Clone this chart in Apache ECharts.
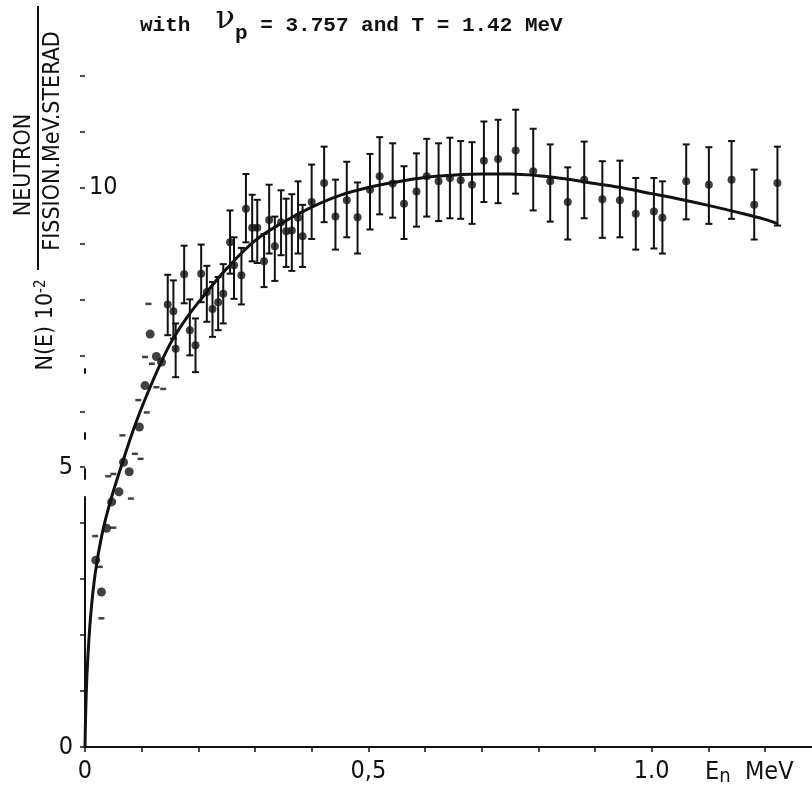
<!DOCTYPE html>
<html><head><meta charset="utf-8">
<script src="https://cdn.jsdelivr.net/npm/echarts@6/dist/echarts.min.js"></script>
<style>html,body{margin:0;padding:0;background:#fff}#c{width:812px;height:787px}</style>
</head><body><div id="c"></div>
<script>
// fitted curve (E in MeV, N(E) x 10^2)
const curveE = [0, 0.002, 0.005, 0.01, 0.018, 0.03, 0.045, 0.065, 0.09, 0.12, 0.15, 0.18, 0.21, 0.25, 0.3, 0.35, 0.4, 0.45, 0.5, 0.55, 0.6, 0.65, 0.7, 0.75, 0.8, 0.85, 0.9, 0.95, 1.0, 1.05, 1.1, 1.15, 1.2, 1.223];
const curveN = [0, 0.9, 1.6, 2.35, 3.1, 3.8, 4.4, 5.05, 5.8, 6.55, 7.2, 7.68, 8.07, 8.55, 9.05, 9.38, 9.65, 9.86, 10.0, 10.1, 10.18, 10.22, 10.24, 10.24, 10.21, 10.15, 10.07, 9.99, 9.89, 9.79, 9.68, 9.56, 9.43, 9.35];

// measured points with error bars
const barE  = [0.146, 0.156, 0.160, 0.175, 0.185, 0.195, 0.205, 0.215, 0.225, 0.235, 0.244, 0.256, 0.263, 0.276, 0.284, 0.295, 0.304, 0.316, 0.325, 0.335, 0.346, 0.355, 0.365, 0.376, 0.384, 0.400, 0.422, 0.442, 0.462, 0.481, 0.503, 0.520, 0.543, 0.563, 0.585, 0.603, 0.624, 0.644, 0.663, 0.683, 0.704, 0.729, 0.760, 0.791, 0.821, 0.852, 0.881, 0.913, 0.944, 0.972, 1.004, 1.019, 1.061, 1.101, 1.141, 1.181, 1.222];
const barN  = [7.91, 7.79, 7.12, 8.45, 7.45, 7.18, 8.46, 8.13, 7.83, 7.95, 8.10, 9.02, 8.61, 8.43, 9.62, 9.28, 9.28, 8.68, 9.42, 8.95, 9.38, 9.22, 9.23, 9.46, 9.13, 9.74, 10.08, 9.48, 9.77, 9.47, 9.96, 10.20, 10.07, 9.71, 9.93, 10.20, 10.11, 10.17, 10.13, 10.05, 10.48, 10.51, 10.66, 10.29, 10.11, 9.74, 10.14, 9.79, 9.77, 9.53, 9.57, 9.46, 10.11, 10.05, 10.14, 9.69, 10.08];
const barLo = [7.36, 7.30, 6.61, 7.93, 7.00, 6.70, 7.95, 7.60, 7.33, 7.45, 7.57, 8.46, 8.01, 7.91, 9.02, 8.68, 8.65, 8.22, 8.82, 8.33, 8.79, 8.58, 8.51, 8.82, 8.58, 9.08, 9.38, 8.89, 9.11, 8.82, 9.25, 9.52, 9.46, 9.08, 9.30, 9.48, 9.40, 9.45, 9.44, 9.35, 9.74, 9.72, 9.89, 9.59, 9.39, 9.07, 9.45, 9.10, 9.11, 8.89, 8.91, 8.82, 9.43, 9.35, 9.44, 9.07, 9.32];
const barHi = [8.44, 8.34, 7.57, 8.96, 8.00, 7.66, 8.98, 8.60, 8.31, 8.40, 8.63, 9.59, 9.11, 8.92, 10.24, 9.87, 9.78, 9.17, 10.05, 9.48, 9.95, 9.80, 9.88, 10.11, 9.69, 10.41, 10.73, 10.14, 10.46, 10.09, 10.60, 10.90, 10.79, 10.38, 10.61, 10.87, 10.79, 10.89, 10.83, 10.81, 11.18, 11.21, 11.39, 11.05, 10.77, 10.36, 10.82, 10.47, 10.48, 10.17, 10.17, 10.11, 10.77, 10.72, 10.83, 10.32, 10.73];

// low-energy points (no visible error bar)
const dotE = [0.019, 0.029, 0.038, 0.047, 0.060, 0.068, 0.078, 0.096, 0.106, 0.115, 0.126, 0.135];
const dotN = [3.34, 2.77, 3.91, 4.38, 4.56, 5.09, 4.92, 5.72, 6.46, 7.38, 6.98, 6.88];

// second low-energy set (small marks)
const markE = [0.018, 0.026, 0.029, 0.041, 0.050, 0.050, 0.066, 0.081, 0.088, 0.098, 0.094, 0.106, 0.109, 0.112, 0.118, 0.126, 0.138];
const markN = [3.77, 3.22, 2.30, 4.84, 4.88, 3.92, 5.57, 4.44, 5.24, 5.15, 6.20, 6.97, 5.98, 7.92, 6.85, 6.43, 6.40];

const xLabelValues = [0, 0.5, 1.0];
const xLabelTexts  = ['0', '0,5', '1.0'];
const yLabelValues = [0, 5];
const yLabelTexts  = ['0', '5'];
const yInsideValues = [10];
const yInsideTexts  = ['10'];

const FONT = "'Liberation Sans Narrow','DejaVu Sans Condensed','DejaVu Sans',sans-serif";
const MONO = "'Liberation Mono','DejaVu Sans Mono',monospace";
const INK = '#111';

function pick(vals, texts) {
  return function (v) {
    for (let i = 0; i < vals.length; i++) if (Math.abs(v - vals[i]) < 1e-6) return texts[i];
    return '';
  };
}

const chart = echarts.init(document.getElementById('c'), null, {renderer: 'canvas'});
const option = {
  backgroundColor: '#fff',
  animation: false,
  grid: {left: 85, right: 0, top: 70, bottom: 40},
  xAxis: [{
    type: 'value', min: 0, max: 1.283, interval: 0.1, position: 'bottom',
    axisLine: {lineStyle: {color: INK, width: 2}},
    axisTick: {length: 5, lineStyle: {color: INK, width: 1.5}},
    axisLabel: {formatter: pick(xLabelValues, xLabelTexts), color: INK, fontSize: 25, fontFamily: FONT, margin: 12, showMaxLabel: false},
    splitLine: {show: false}
  }, {
    type: 'value', min: 0, max: 1.283, interval: 0.1, position: 'top',
    axisLine: {lineStyle: {color: INK, width: 2, type: [151, 74, 52, 19, 55, 8, 7, 6, 5, 8, 13, 31, 11, 16, 10, 16, 400]}},
    axisTick: {show: false}, axisLabel: {show: false}, splitLine: {show: false}
  }],
  yAxis: [{
    type: 'value', min: 0, max: 12.1, interval: 1,
    axisLine: {lineStyle: {color: INK, width: 2, type: [250, 18, 10, 30, 6, 60, 4, 400]}},
    axisTick: {length: 5, lineStyle: {color: INK, width: 1.5}},
    axisLabel: {formatter: pick(yLabelValues, yLabelTexts), color: INK, fontSize: 25, fontFamily: FONT, margin: 12, showMaxLabel: false},
    splitLine: {show: false}
  }, {
    type: 'value', min: 0, max: 12.1, interval: 1, position: 'left',
    axisLine: {show: false}, axisTick: {show: false},
    axisLabel: {inside: true, margin: 4, formatter: pick(yInsideValues, yInsideTexts), color: INK, fontSize: 25, fontFamily: FONT, showMaxLabel: false},
    splitLine: {show: false}
  }],
  series: [{
    type: 'line', smooth: 0.35, showSymbol: false,
    data: curveE.map((e, i) => [e, curveN[i]]),
    lineStyle: {color: INK, width: 3}, z: 3
  }, {
    type: 'custom',
    data: barE.map((e, i) => [e, barN[i], barLo[i], barHi[i]]),
    renderItem: function (params, api) {
      const x = api.value(0);
      const pl = api.coord([x, api.value(2)]);
      const ph = api.coord([x, api.value(3)]);
      const cap = 3.5;
      const st = {stroke: INK, lineWidth: 2};
      return {type: 'group', children: [
        {type: 'line', shape: {x1: ph[0], y1: ph[1], x2: pl[0], y2: pl[1]}, style: st},
        {type: 'line', shape: {x1: ph[0] - cap, y1: ph[1], x2: ph[0] + cap, y2: ph[1]}, style: st},
        {type: 'line', shape: {x1: pl[0] - cap, y1: pl[1], x2: pl[0] + cap, y2: pl[1]}, style: st}
      ]};
    },
    z: 4
  }, {
    type: 'scatter', symbol: 'circle', symbolSize: 8,
    data: barE.map((e, i) => [e, barN[i]]),
    itemStyle: {color: INK}, z: 5
  }, {
    type: 'scatter', symbol: 'circle', symbolSize: 9,
    data: dotE.map((e, i) => [e, dotN[i]]),
    itemStyle: {color: INK}, z: 5
  }, {
    type: 'scatter', symbol: 'rect', symbolSize: [6, 2.5],
    data: markE.map((e, i) => [e, markN[i]]),
    itemStyle: {color: INK}, z: 5
  }],
  graphic: [
    {type: 'text', left: 140, top: 4, style: {
      text: '{a|with  }{nu|ν}{sub|p}{a| = 3.757 and T = 1.42 MeV}',
      rich: {
        a: {fontFamily: MONO, fontWeight: 'bold', fontSize: 21, fill: INK, verticalAlign: 'bottom', lineHeight: 28},
        nu: {fontFamily: "'DejaVu Serif',serif", fontSize: 32, fill: INK, verticalAlign: 'bottom', lineHeight: 28},
        sub: {fontFamily: MONO, fontWeight: 'bold', fontSize: 21, fill: INK, verticalAlign: 'bottom', lineHeight: 20, padding: [0, 0, -8, 0]}
      }
    }},
    {type: 'text', x: 24, y: 165, rotation: Math.PI / 2, style: {text: 'NEUTRON', fontFamily: FONT, fontSize: 23, fill: INK, align: 'center', verticalAlign: 'middle'}},
    {type: 'line', shape: {x1: 38, y1: 270, x2: 38, y2: 6}, style: {stroke: INK, lineWidth: 2}},
    {type: 'text', x: 53, y: 141, rotation: Math.PI / 2, style: {text: 'FISSION.MeV.STERAD', fontFamily: FONT, fontSize: 23, fill: INK, align: 'center', verticalAlign: 'middle'}},
    {type: 'text', x: 46, y: 325, rotation: Math.PI / 2, style: {
      text: '{a|N(E) 10}{s|-2}',
      rich: {a: {fontFamily: FONT, fontSize: 23, fill: INK}, s: {fontFamily: FONT, fontSize: 15, fill: INK, verticalAlign: 'top', padding: [0, 0, 10, 0]}},
      align: 'center', verticalAlign: 'middle'}},
    {type: 'text', left: 705, top: 760, style: {
      text: '{a|E}{s|n}{a|  MeV}',
      rich: {a: {fontFamily: FONT, fontSize: 25, fill: INK}, s: {fontFamily: FONT, fontSize: 20, fill: INK, padding: [8, 0, 0, 0]}}
    }}
  ]
};
chart.setOption(option);
</script>
</body></html>
